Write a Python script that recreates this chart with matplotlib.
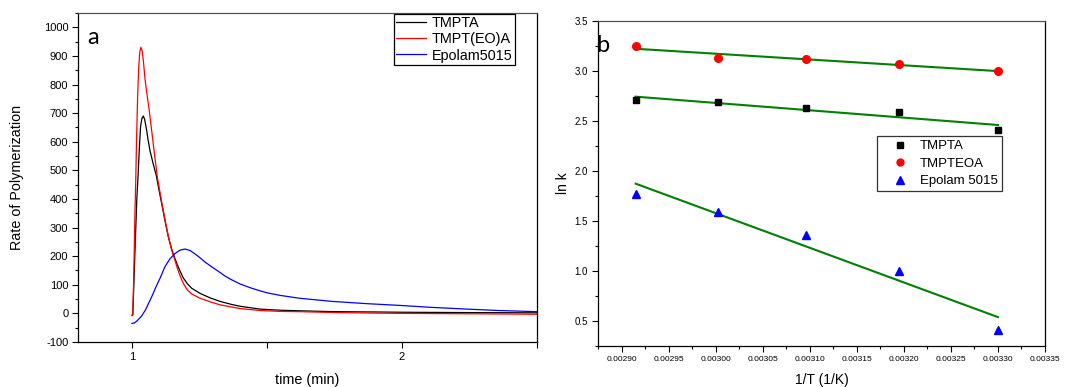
import numpy as np
import matplotlib
matplotlib.use("Agg")
import matplotlib.pyplot as plt
import matplotlib.ticker as ticker

plt.rcParams['font.family'] = ['Liberation Sans', 'DejaVu Sans']
plt.rcParams['axes.unicode_minus'] = False

# ---- panel a : rate of polymerization vs time ----
t_tmpta = [1.000, 1.003, 1.008, 1.013, 1.018, 1.023, 1.028, 1.032, 1.037, 1.042,
           1.047, 1.054, 1.060, 1.067, 1.078, 1.090, 1.100, 1.110, 1.122, 1.135,
           1.146, 1.157, 1.168, 1.178, 1.190, 1.205, 1.221, 1.252, 1.290, 1.326,
           1.370, 1.400, 1.474, 1.550, 1.622, 1.750, 1.900, 2.000, 2.200, 2.500]
r_tmpta = [-6, -4, 130, 270, 400, 490, 590, 655, 682, 690,
           678, 642, 605, 568, 525, 482, 432, 384, 325, 267,
           228, 197, 170, 148, 124, 104, 88, 70, 54, 42,
           31, 25, 15, 11, 9, 6, 5, 4, 3, 2]

t_tmpteoa = [1.000, 1.003, 1.007, 1.011, 1.014, 1.017, 1.021, 1.025, 1.029, 1.033,
             1.038, 1.043, 1.048, 1.055, 1.064, 1.073, 1.083, 1.094, 1.110, 1.122,
             1.135, 1.146, 1.157, 1.168, 1.178, 1.190, 1.205, 1.221, 1.252, 1.290,
             1.326, 1.370, 1.400, 1.474, 1.550, 1.622, 1.750, 1.900, 2.000, 2.200, 2.500]
r_tmpteoa = [-8, -5, 150, 350, 465, 610, 760, 860, 915, 930,
             917, 875, 822, 770, 709, 639, 560, 476, 390, 330,
             267, 225, 192, 158, 132, 105, 82, 68, 53, 40,
             30, 22, 17, 10, 7, 6, 3, 1, 0, -1, -3]

t_epolam = [1.000, 1.010, 1.020, 1.035, 1.050, 1.073, 1.090, 1.105, 1.122, 1.140,
            1.159, 1.178, 1.196, 1.215, 1.230, 1.246, 1.270, 1.295, 1.326, 1.344,
            1.370, 1.400, 1.440, 1.474, 1.500, 1.548, 1.620, 1.740, 1.870, 1.990,
            2.110, 2.240, 2.360, 2.500]
r_epolam = [-35, -33, -25, -10, 12, 58, 95, 125, 163, 190,
            209, 221, 225, 220, 210, 199, 180, 163, 143, 131,
            117, 103, 89, 79, 72, 63, 53, 42, 34, 28,
            21, 15, 10, 6]

# ---- panel b : Arrhenius plot ----
inv_T = [0.002915, 0.003003, 0.003096, 0.003195, 0.003300]
lnk_tmpta = [2.71, 2.69, 2.63, 2.59, 2.41]
lnk_tmpteoa = [3.25, 3.13, 3.12, 3.07, 3.00]
lnk_epolam = [1.77, 1.59, 1.36, 1.00, 0.41]

fig = plt.figure(figsize=(10.83, 3.87), dpi=100)

# panel a
ax1 = fig.add_axes([0.0720, 0.1163, 0.4238, 0.850])
ax1.plot(t_tmpta, r_tmpta, color='black', lw=0.9, label='TMPTA')
ax1.plot(t_tmpteoa, r_tmpteoa, color='#ff0000', lw=0.9, label='TMPT(EO)A')
ax1.plot(t_epolam, r_epolam, color='#0000ff', lw=0.9, label='Epolam5015')
ax1.set_xlim(0.8, 2.5)
ax1.set_ylim(-100, 1050)
ax1.set_xticks([1, 1.5, 2, 2.5])
ax1.set_xticklabels(['1', '', '2', ''])
ax1.yaxis.set_major_locator(ticker.MultipleLocator(100))
ax1.yaxis.set_minor_locator(ticker.MultipleLocator(50))
ax1.tick_params(axis='both', which='major', direction='out', length=4.5, width=0.8,
                labelsize=8, pad=2.5)
ax1.tick_params(axis='y', which='minor', direction='out', length=2.5, width=0.8)
ax1.set_xlabel('time (min)', fontsize=10.4, labelpad=8)
ax1.set_ylabel('Rate of Polymerization', fontsize=10.4, labelpad=14)
ax1.spines['top'].set_color('#555555')
for s in ax1.spines.values():
    s.set_linewidth(0.9)
leg1 = ax1.legend(loc='upper right', bbox_to_anchor=(0.952, 0.997), fontsize=10.4,
                  frameon=True, fancybox=False, edgecolor='black', framealpha=1,
                  handlelength=2.05, handletextpad=0.45, labelspacing=0.15,
                  borderpad=0.15, borderaxespad=0)
leg1.get_frame().set_linewidth(0.9)
ax1.text(0.02, 0.905, 'a', transform=ax1.transAxes, fontsize=17,
         family=['Lato', 'DejaVu Sans'], va='baseline')

# panel b
ax2 = fig.add_axes([0.5522, 0.1059, 0.4127, 0.8398])
fit_x = np.array([inv_T[0], inv_T[-1]])
for y in (lnk_tmpteoa, lnk_tmpta, lnk_epolam):
    p = np.polyfit(inv_T, y, 1)
    ax2.plot(fit_x, np.polyval(p, fit_x), color='#008000', lw=1.5, zorder=2)
ax2.plot(inv_T, lnk_tmpta, 's', color='black', ms=5, ls='none', label='TMPTA', zorder=3)
ax2.plot(inv_T, lnk_tmpteoa, 'o', color='#ff0000', ms=5.5, ls='none', label='TMPTEOA', zorder=3)
ax2.plot(inv_T, lnk_epolam, '^', color='#0000ff', ms=6, ls='none', label='Epolam 5015', zorder=3)
ax2.set_xlim(0.002875, 0.00335)
ax2.set_ylim(0.25, 3.5)
ax2.xaxis.set_major_locator(ticker.MultipleLocator(0.00005))
ax2.xaxis.set_minor_locator(ticker.MultipleLocator(0.000025))
ax2.xaxis.set_major_formatter(ticker.FormatStrFormatter('%.5f'))
ax2.yaxis.set_major_locator(ticker.MultipleLocator(0.5))
ax2.yaxis.set_minor_locator(ticker.MultipleLocator(0.25))
ax2.yaxis.set_major_formatter(ticker.FormatStrFormatter('%.1f'))
ax2.tick_params(axis='both', which='major', direction='out', length=4.5, width=0.8, pad=3)
ax2.tick_params(axis='both', which='minor', direction='out', length=2.5, width=0.8)
ax2.tick_params(axis='x', labelsize=6)
ax2.tick_params(axis='y', labelsize=7)
ax2.set_xlabel('1/T (1/K)', fontsize=10, labelpad=7)
ax2.set_ylabel('ln k', fontsize=10, labelpad=3)
ax2.spines['top'].set_color('#555555')
for s in ax2.spines.values():
    s.set_linewidth(0.9)
leg2 = ax2.legend(loc='upper left', bbox_to_anchor=(0.624, 0.646), fontsize=9.5,
                  frameon=True, fancybox=False, edgecolor='#333333', framealpha=1,
                  handlelength=2.9, handletextpad=0.05, labelspacing=0.4,
                  borderpad=0.3, borderaxespad=0, markerscale=0.9)
leg2.get_frame().set_linewidth(0.9)
ax2.text(-0.004, 0.905, 'b', transform=ax2.transAxes, fontsize=17,
         family=['Lato', 'DejaVu Sans'], va='baseline')

fig.savefig('out.png', dpi=100)
